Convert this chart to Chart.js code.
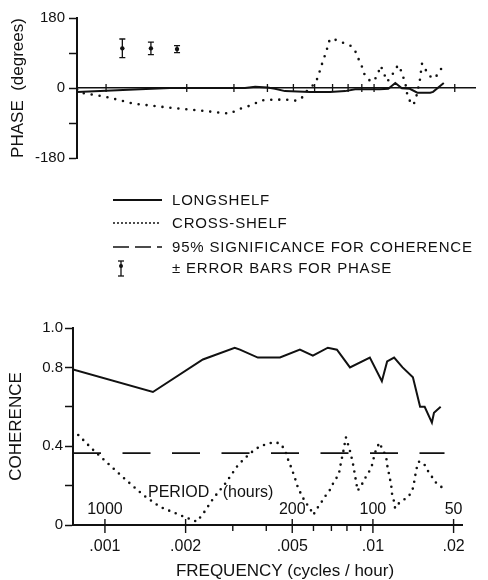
<!DOCTYPE html>
<html>
<head>
<meta charset="utf-8">
<script src="https://cdn.jsdelivr.net/npm/chart.js@4.4.1/dist/chart.umd.min.js"></script>
<style>
body { margin:0; background:#fff; }
#quadro { position:relative; width:488px; height:580px; font-family:"Liberation Sans", Arial, sans-serif; color:#111; }
#fase { position:absolute; left:0; top:0; }
#coer { position:absolute; left:0; top:300px; }
#amostras { position:absolute; left:0; top:0; }
.leg { position:absolute; left:172px; font-size:15px; line-height:18px; letter-spacing:0.8px; white-space:nowrap; }
</style>
</head>
<body>
<div id="quadro">
    <canvas id="fase" width="488" height="175"></canvas>
    <svg id="amostras" width="488" height="300">
        <line x1="113" y1="200" x2="162" y2="200" stroke="#111" stroke-width="2"/>
        <line x1="114" y1="223" x2="162" y2="223" stroke="#111" stroke-width="2" stroke-linecap="round" stroke-dasharray="0 4"/>
        <line x1="113" y1="247" x2="162" y2="247" stroke="#111" stroke-width="1.5" stroke-dasharray="16 6"/>
        <line x1="121" y1="261" x2="121" y2="276" stroke="#111" stroke-width="1.3"/>
        <line x1="118" y1="261" x2="124" y2="261" stroke="#111" stroke-width="1.3"/>
        <line x1="118" y1="276" x2="124" y2="276" stroke="#111" stroke-width="1.3"/>
        <circle cx="121" cy="266" r="2" fill="#111"/>
    </svg>
    <div class="leg" style="top:191px">LONGSHELF</div>
    <div class="leg" style="top:214px">CROSS-SHELF</div>
    <div class="leg" style="top:238px">95% SIGNIFICANCE FOR COHERENCE</div>
    <div class="leg" style="top:259px">± ERROR BARS FOR PHASE</div>
    <canvas id="coer" width="488" height="280"></canvas>
</div>
<script>
// frequencia em ciclos/hora, fase em graus
var freqFaseLong = [0.00078,0.00095,0.00134,0.00173,0.00266,0.0033,0.0036,0.0040,0.00427,0.00465,0.00577,0.00685,0.0078,0.0085,0.0105,0.0113,0.0120,0.0127,0.0136,0.0145,0.0162,0.0166,0.0182];
var faseLong = [-10,-8,-3,0,0,0,3,1,-2,-8,-10,-10,-8,-3,-3,-2,13,-1,-2,-12,-12,-10,13];

var freqFaseCross = [0.00078,0.0008,0.00099,0.00126,0.00169,0.00224,0.0029,0.00311,0.00339,0.00357,0.00378,0.00421,0.00472,0.00517,0.00542,0.00561,0.00606,0.00618,0.00629,0.0064,0.00651,0.00666,0.00672,0.00689,0.00726,0.00768,0.00821,0.00857,0.00877,0.009,0.00912,0.00939,0.00974,0.0102,0.0104,0.0106,0.0108,0.0110,0.0112,0.0116,0.0119,0.0123,0.0125,0.0128,0.0129,0.0131,0.0133,0.0135,0.0140,0.0143,0.0148,0.0149,0.0151,0.0156,0.0160,0.0166,0.0172,0.0177,0.0182];
var faseCross = [-4,-12,-22,-40,-50,-58,-66,-55,-47,-41,-32,-30,-30,-33,-23,-8,14,30,46,63,78,96,114,127,123,116,108,91,73,56,40,27,16,27,42,57,42,30,17,29,44,59,50,35,23,10,-17,-30,-44,-29,17,33,63,46,33,24,33,46,63];

// barras de erro da fase
var freqErro = [0.00115,0.00147,0.00184];
var faseErro = [102,102,100];
var meioErro = [24,16,9];

// coerencia
var freqCoerLong = [0.00076,0.00151,0.00232,0.00305,0.00319,0.00372,0.0045,0.00534,0.00597,0.00679,0.00734,0.00821,0.00974,0.0108,0.0113,0.0120,0.0129,0.0141,0.0150,0.0156,0.0166,0.0169,0.0179];
var coerLong = [0.79,0.675,0.84,0.90,0.89,0.85,0.85,0.89,0.86,0.90,0.89,0.80,0.85,0.73,0.83,0.85,0.80,0.75,0.60,0.60,0.52,0.57,0.60];

var freqCoerCross = [0.000795,0.000904,0.00104,0.0012,0.00139,0.0016,0.0019,0.0022,0.00233,0.00254,0.00283,0.00314,0.00348,0.00379,0.00424,0.0045,0.0047,0.00483,0.00497,0.00512,0.00526,0.00542,0.00558,0.00582,0.00599,0.0062,0.00644,0.00662,0.00691,0.00711,0.00736,0.00753,0.0076,0.00771,0.00781,0.00793,0.00809,0.00826,0.00844,0.00857,0.00877,0.00907,0.00934,0.0096,0.00989,0.0101,0.0103,0.0106,0.0108,0.0112,0.0113,0.0115,0.0117,0.0118,0.0120,0.0121,0.0125,0.0130,0.0136,0.0141,0.0143,0.0145,0.0148,0.0152,0.0156,0.0161,0.0166,0.0170,0.0177,0.0184];
var coerCross = [0.457,0.381,0.305,0.228,0.152,0.093,0.051,0.017,0.059,0.136,0.215,0.305,0.364,0.40,0.42,0.415,0.381,0.33,0.288,0.237,0.186,0.152,0.118,0.085,0.051,0.085,0.118,0.144,0.178,0.212,0.245,0.279,0.321,0.355,0.397,0.445,0.406,0.364,0.305,0.254,0.174,0.203,0.237,0.262,0.296,0.347,0.389,0.418,0.389,0.350,0.305,0.254,0.203,0.152,0.118,0.085,0.110,0.127,0.144,0.186,0.228,0.279,0.321,0.321,0.305,0.271,0.245,0.220,0.203,0.181];

var freqSignif = [0.00076,0.0185];
var signif95 = [0.365,0.365];

// eixos
var ticksFreq = [0.001,0.002,0.003,0.004,0.005,0.006,0.007,0.008,0.009,0.01,0.02];
var rotulosFreq = ['.001','.002','','','.005','','','','','.01','.02'];
var periodos = [1000,200,100,50];
var ticksFase = [-180,-90,0,90,180];
var rotulosFase = ['-180','','0','','180'];
var ticksCoer = [0,0.2,0.4,0.6,0.8,1.0];
var rotulosCoer = ['0','','0.4','','0.8','1.0'];

function pares(xs, ys){
    return xs.map(function(v, i){ return {x:v, y:ys[i]}; });
}

window.onload = function(){
    var tinta = '#111';
    var fonte = '"Liberation Sans", Arial, sans-serif';
    Chart.defaults.font.family = fonte;
    Chart.defaults.color = tinta;

    var desenhaFase = {
        id:'desenhaFase',
        afterDatasetsDraw: function(g){
            var ctx = g.ctx, x = g.scales.x, y = g.scales.y;
            var y0 = y.getPixelForValue(0);
            ctx.save();
            ctx.strokeStyle = tinta;
            ctx.fillStyle = tinta;
            ctx.lineWidth = 1.3;
            ticksFreq.forEach(function(f){
                var px = x.getPixelForValue(f);
                ctx.beginPath(); ctx.moveTo(px, y0-4); ctx.lineTo(px, y0+4); ctx.stroke();
            });
            freqErro.forEach(function(f, i){
                var px = x.getPixelForValue(f);
                var pa = y.getPixelForValue(faseErro[i] + meioErro[i]);
                var pb = y.getPixelForValue(faseErro[i] - meioErro[i]);
                var pc = y.getPixelForValue(faseErro[i]);
                ctx.beginPath();
                ctx.moveTo(px, pa); ctx.lineTo(px, pb);
                ctx.moveTo(px-3, pa); ctx.lineTo(px+3, pa);
                ctx.moveTo(px-3, pb); ctx.lineTo(px+3, pb);
                ctx.stroke();
                ctx.beginPath(); ctx.arc(px, pc, 2.2, 0, Math.PI*2); ctx.fill();
            });
            ctx.restore();
        }
    };

    var desenhaCoer = {
        id:'desenhaCoer',
        afterDatasetsDraw: function(g){
            var ctx = g.ctx, x = g.scales.x, y = g.scales.y;
            var y0 = y.getPixelForValue(0);
            ctx.save();
            ctx.strokeStyle = tinta;
            ctx.fillStyle = tinta;
            ctx.lineWidth = 1.4;
            ticksFreq.forEach(function(f, i){
                var px = x.getPixelForValue(f);
                ctx.beginPath();
                if (rotulosFreq[i]) { ctx.moveTo(px, y0-6); ctx.lineTo(px, y0+8); }
                else { ctx.moveTo(px, y0); ctx.lineTo(px, y0+6); }
                ctx.stroke();
            });
            ctx.font = '16px ' + fonte;
            ctx.textAlign = 'center';
            ctx.textBaseline = 'middle';
            periodos.forEach(function(p){
                ctx.fillText(String(p), x.getPixelForValue(1/p), y0-15);
            });
            ctx.textAlign = 'left';
            ctx.fillText('PERIOD   (hours)', 148, y0-32);
            ctx.font = '17px ' + fonte;
            ctx.textAlign = 'center';
            ctx.fillText('FREQUENCY (cycles / hour)', 285, 271);
            ctx.restore();
        }
    };

    var contextoFase = document.getElementById('fase').getContext('2d');
    var graficoFase = new Chart(contextoFase, {
        type:'line',
        data:{
            datasets:[{
                label:'Longshelf',
                data:pares(freqFaseLong, faseLong),
                borderColor:tinta,
                borderWidth:2,
                pointRadius:0,
                fill:false
            },{
                label:'Cross-shelf',
                data:pares(freqFaseCross, faseCross),
                borderColor:tinta,
                borderWidth:2.6,
                borderDash:[0,8],
                borderCapStyle:'round',
                pointRadius:0,
                fill:false
            }]
        },
        options:{
            responsive:false,
            animation:false,
            layout:{ padding:{ top:18, right:13, bottom:17, left:0 } },
            plugins:{ legend:{display:false}, tooltip:{enabled:false} },
            scales:{
                x:{
                    type:'logarithmic',
                    min:0.000779,
                    max:0.0238,
                    position:{ y:0 },
                    afterBuildTicks:function(s){ s.ticks = ticksFreq.map(function(v){ return {value:v}; }); },
                    ticks:{ display:false },
                    grid:{ display:false },
                    border:{ color:tinta, width:1.5 }
                },
                y:{
                    min:-180,
                    max:180,
                    afterBuildTicks:function(s){ s.ticks = ticksFase.map(function(v){ return {value:v}; }); },
                    afterFit:function(s){ s.width = 77; },
                    ticks:{
                        font:{ size:15 },
                        padding:4,
                        callback:function(v, i){ return rotulosFase[i]; }
                    },
                    grid:{ drawOnChartArea:false, tickLength:8, tickColor:tinta, tickWidth:1.5 },
                    border:{ color:tinta, width:2 },
                    title:{ display:true, text:'PHASE  (degrees)', font:{ size:17 }, padding:{ top:8 } }
                }
            }
        },
        plugins:[desenhaFase]
    });

    var contextoCoer = document.getElementById('coer').getContext('2d');
    var graficoCoer = new Chart(contextoCoer, {
        type:'line',
        data:{
            datasets:[{
                label:'Longshelf',
                data:pares(freqCoerLong, coerLong),
                borderColor:tinta,
                borderWidth:2,
                pointRadius:0,
                fill:false
            },{
                label:'Cross-shelf',
                data:pares(freqCoerCross, coerCross),
                borderColor:tinta,
                borderWidth:2.6,
                borderDash:[0,7],
                borderCapStyle:'round',
                pointRadius:0,
                fill:false
            },{
                label:'95% significance',
                data:pares(freqSignif, signif95),
                borderColor:tinta,
                borderWidth:1.6,
                borderDash:[28,21.5],
                pointRadius:0,
                fill:false
            }]
        },
        options:{
            responsive:false,
            animation:false,
            layout:{ padding:{ top:28, right:26, bottom:0, left:0 } },
            plugins:{ legend:{display:false}, tooltip:{enabled:false} },
            scales:{
                x:{
                    type:'logarithmic',
                    min:0.00076,
                    max:0.0215,
                    afterBuildTicks:function(s){ s.ticks = ticksFreq.map(function(v){ return {value:v}; }); },
                    afterFit:function(s){ s.height = 55; },
                    ticks:{
                        font:{ size:16 },
                        padding:6,
                        autoSkip:false,
                        maxRotation:0,
                        callback:function(v, i){ return rotulosFreq[i]; }
                    },
                    grid:{ display:false, drawTicks:true, tickLength:6 },
                    border:{ color:tinta, width:2 }
                },
                y:{
                    min:0,
                    max:1,
                    afterBuildTicks:function(s){ s.ticks = ticksCoer.map(function(v){ return {value:v}; }); },
                    afterFit:function(s){ s.width = 73; },
                    ticks:{
                        font:{ size:15 },
                        padding:2,
                        callback:function(v, i){ return rotulosCoer[i]; }
                    },
                    grid:{ drawOnChartArea:false, tickLength:8, tickColor:tinta, tickWidth:1.5 },
                    border:{ color:tinta, width:2 },
                    title:{ display:true, text:'COHERENCE', font:{ size:17 }, padding:{ top:6 } }
                }
            }
        },
        plugins:[desenhaCoer]
    });
}
</script>
</body>
</html>
